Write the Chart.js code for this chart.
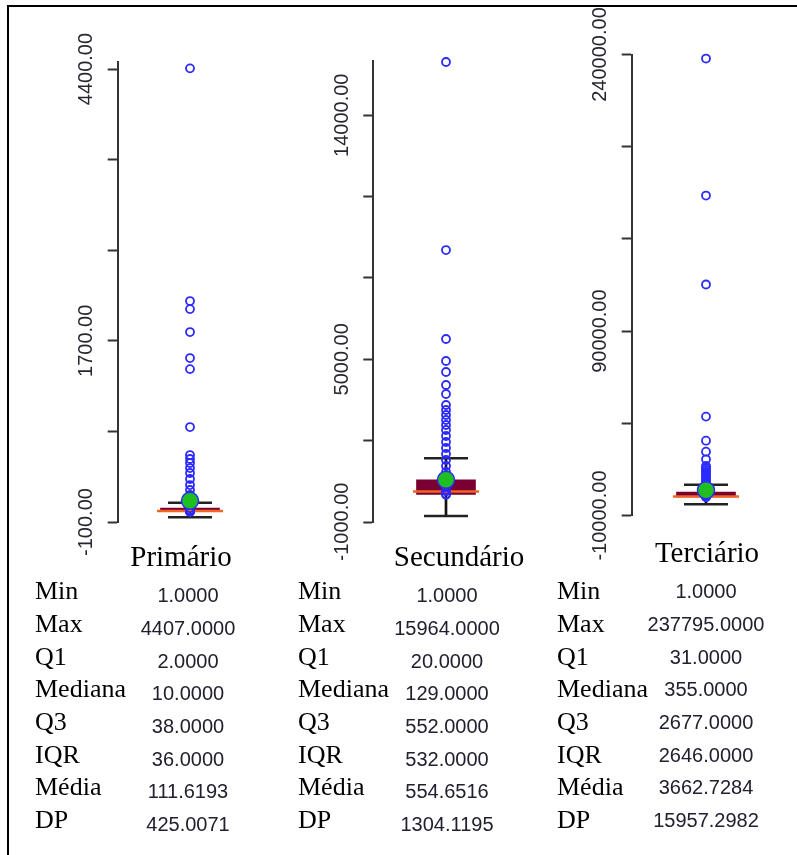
<!DOCTYPE html>
<html lang="pt">
<head>
<meta charset="utf-8">
<script src="https://cdn.jsdelivr.net/npm/chart.js@4.4.1/dist/chart.umd.min.js"></script>
<style>
html,body{margin:0;padding:0;background:#fff;}
body{width:797px;height:855px;position:relative;overflow:hidden;}
#frame{position:absolute;left:7px;top:5px;right:-2px;bottom:-2px;border-left:2px solid #000;border-top:2px solid #000;}
canvas.painel{position:absolute;top:0;}
.titulo{position:absolute;font-family:'Liberation Serif','Times New Roman',serif;font-size:29px;line-height:29px;color:#000;white-space:nowrap;transform:translateX(-50%);}
.rot{position:absolute;font-family:'Liberation Serif','Times New Roman',serif;font-size:26px;line-height:26px;color:#000;white-space:nowrap;}
.val{position:absolute;font-family:'Liberation Sans',Arial,sans-serif;font-size:20px;line-height:20px;color:#20202e;white-space:nowrap;transform:translateX(-50%);}
</style>
</head>
<body>
<div id="frame"></div>
<script>
// ---------- data ----------
const categorias = ['Primário', 'Secundário', 'Terciário'];
const estatisticas = ['Min', 'Max', 'Q1', 'Mediana', 'Q3', 'IQR', 'Média', 'DP'];
const minimos = [1, 1, 1];
const maximos = [4407, 15964, 237795];
const q1s = [2, 20, 31];
const medianas = [10, 129, 355];
const q3s = [38, 552, 2677];
const iqrs = [36, 532, 2646];
const medias = [111.6193, 554.6516, 3662.7284];
const dps = [425.0071, 1304.1195, 15957.2982];

const pontosPrimario = [4407, 2095, 2015, 1787, 1529, 1419, 843, 565, 526, 486, 436, 387, 327, 267, 218, 168, 118, 69, 38, 20, 10, 5, 2, 1];
const pontosSecundario = [15964, 9029, 5748, 4937, 4531, 4052, 3720, 3314, 3130, 2945, 2761, 2577, 2392, 2171, 1950, 1729, 1507, 1286, 1065, 844, 622, 401, 180, 129, 32, 1];
const pontosTerciario = [237795, 163500, 115270, 43630, 30560, 24600, 20480, 16840, 15750, 14670, 13590, 12500, 11420, 10340, 9250, 8170, 7080, 6000, 4910, 3830, 2740, 1660, 570, 355, 31, 1];

const ticksPrimario = [-100, 800, 1700, 2600, 3500, 4400];
const ticksSecundario = [-1000, 2000, 5000, 8000, 11000, 14000];
const ticksTerciario = [-10000, 40000, 90000, 140000, 190000, 240000];
const rotulosPrimario = ['-100.00', '', '1700.00', '', '', '4400.00'];
const rotulosSecundario = ['-1000.00', '', '5000.00', '', '', '14000.00'];
const rotulosTerciario = ['-10000.00', '', '90000.00', '', '', '240000.00'];
const eixoMin = [-100, -1000, -10000];
const eixoMax = [4470, 16000, 240000];

// ---------- layout ----------
const pontos = [pontosPrimario, pontosSecundario, pontosTerciario];
const ticksV = [ticksPrimario, ticksSecundario, ticksTerciario];
const rotulos = [rotulosPrimario, rotulosSecundario, rotulosTerciario];
const H = 560, EIXO_W = 50, TICK_L = 10, GAP_ROT = 31;
const paineis = [
  {left: 20, width: 260, eixoX: 117.7, centro: 190, topo: 62, base: 522, titX: 181, titTop: 542, rotX: 35, valX: 188, valDy: 2},
  {left: 280, width: 250, eixoX: 373.3, centro: 446, topo: 61, base: 522, titX: 459, titTop: 542, rotX: 298, valX: 447, valDy: 2},
  {left: 540, width: 257, eixoX: 631.7, centro: 706, topo: 54.5, base: 515.5, titX: 707, titTop: 538, rotX: 557, valX: 706, valDy: -2}
];
const fonteTick = {family: "'Liberation Sans', Arial, sans-serif", size: 20};
const medidor = document.createElement('canvas').getContext('2d');
medidor.font = fonteTick.size + 'px ' + fonteTick.family;

categorias.forEach((cat, i) => {
  const P = paineis[i];
  const cv = document.createElement('canvas');
  cv.className = 'painel';
  cv.width = P.width; cv.height = H;
  cv.style.left = P.left + 'px';
  document.body.appendChild(cv);

  const inf = q1s[i] - 1.5 * iqrs[i];
  const sup = q3s[i] + 1.5 * iqrs[i];
  const widest = Math.max(...rotulos[i].map(t => medidor.measureText(t).width));
  const padTick = GAP_ROT - TICK_L - widest / 2;
  const areaDir = 2 * P.centro - P.eixoX;

  new Chart(cv, {
    type: 'bar',
    data: {
      labels: [cat],
      datasets: [
        {type: 'bar', label: 'bigode', data: [[inf, sup]], backgroundColor: '#111', barThickness: 2, grouped: false, order: 5},
        {type: 'line', label: 'limite inferior', data: [inf], showLine: false, pointStyle: 'line', pointRadius: 22, pointBorderWidth: 2.5, pointBorderColor: '#222', order: 4, clip: false},
        {type: 'line', label: 'limite superior', data: [sup], showLine: false, pointStyle: 'line', pointRadius: 22, pointBorderWidth: 2.5, pointBorderColor: '#222', order: 4, clip: false},
        {type: 'bar', label: 'caixa', data: [[q1s[i], q3s[i]]], backgroundColor: '#7a0032', barThickness: 59, grouped: false, order: 3},
        {type: 'line', label: 'mediana', data: [medianas[i]], showLine: false, pointStyle: 'line', pointRadius: 33, pointBorderWidth: 2.5, pointBorderColor: '#f26522', order: 2, clip: false},
        {type: 'line', label: 'observações', data: pontos[i].map(v => ({x: cat, y: v})), showLine: false, pointStyle: 'circle', pointRadius: 4, pointBorderWidth: 1.8, pointBorderColor: '#2b2bff', pointBackgroundColor: 'rgba(0,0,0,0)', order: 1, clip: false},
        {type: 'line', label: 'média', data: [medias[i]], showLine: false, pointStyle: 'circle', pointRadius: 8.5, pointBorderWidth: 1.5, pointBorderColor: '#2b2bff', pointBackgroundColor: '#1fbf1f', order: 0, clip: false}
      ]
    },
    options: {
      responsive: false,
      animation: false,
      events: [],
      layout: {autoPadding: false, padding: {left: P.eixoX - P.left - EIXO_W, right: P.left + P.width - areaDir, top: P.topo, bottom: H - P.base}},
      plugins: {legend: {display: false}, tooltip: {enabled: false}},
      scales: {
        x: {type: 'category', display: false, offset: true},
        y: {
          type: 'linear',
          min: eixoMin[i], max: eixoMax[i],
          afterBuildTicks: s => { s.ticks = ticksV[i].map(v => ({value: v})); },
          afterFit: s => { s.width = EIXO_W; },
          ticks: {
            autoSkip: false, minRotation: 90, maxRotation: 90, crossAlign: 'center',
            padding: padTick, font: fonteTick, color: '#262630',
            callback: (v, idx) => rotulos[i][idx]
          },
          grid: {drawOnChartArea: false, drawTicks: true, tickLength: TICK_L, tickWidth: 2, tickColor: '#333'},
          border: {display: true, color: '#333', width: 2}
        }
      }
    }
  });

  // título
  const t = document.createElement('div');
  t.className = 'titulo';
  t.textContent = cat;
  t.style.left = P.titX + 'px';
  t.style.top = P.titTop + 'px';
  document.body.appendChild(t);

  // tabela de estatísticas
  const valores = [minimos[i], maximos[i], q1s[i], medianas[i], q3s[i], iqrs[i], medias[i], dps[i]];
  estatisticas.forEach((nome, r) => {
    const baseLinha = 600 + r * 32.7;
    const a = document.createElement('div');
    a.className = 'rot';
    a.textContent = nome;
    a.style.left = P.rotX + 'px';
    a.style.top = (baseLinha - 21.8) + 'px';
    document.body.appendChild(a);
    const b = document.createElement('div');
    b.className = 'val';
    b.textContent = valores[r].toFixed(4);
    b.style.left = P.valX + 'px';
    b.style.top = (baseLinha + P.valDy - 16.9) + 'px';
    document.body.appendChild(b);
  });
});
</script>
</body>
</html>
